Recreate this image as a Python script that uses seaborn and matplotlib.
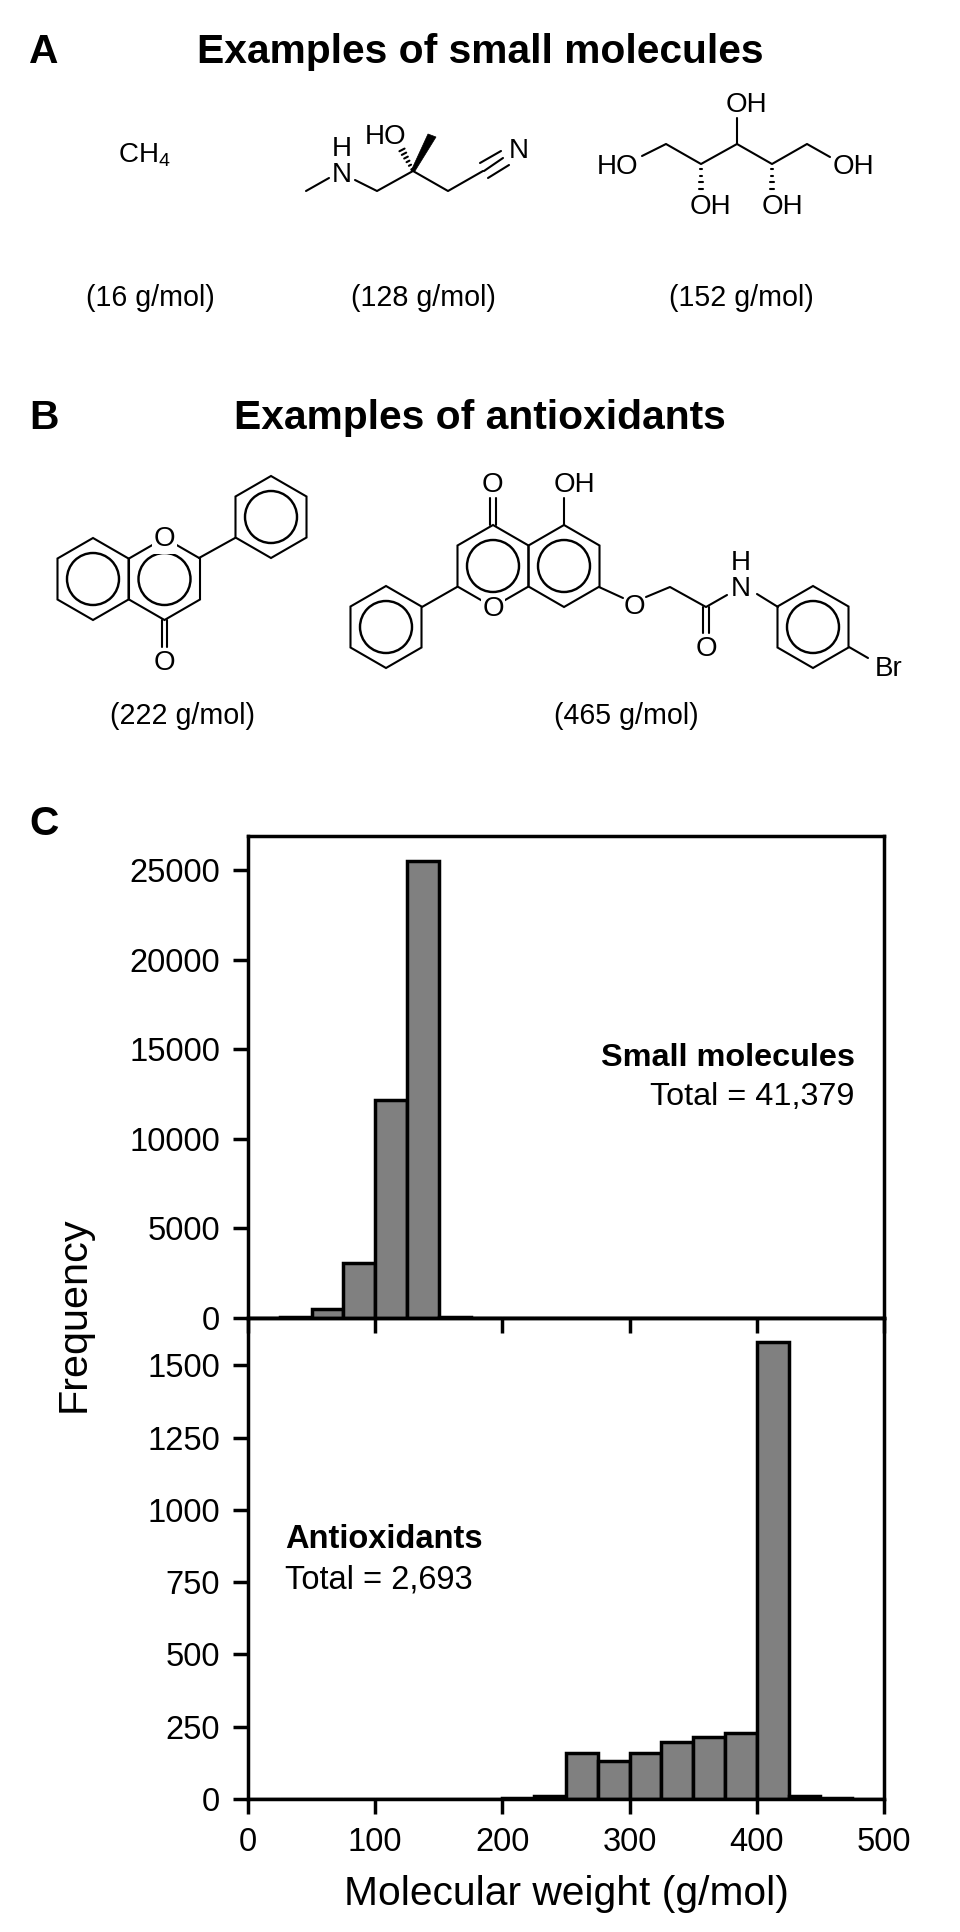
import numpy as np
import matplotlib
matplotlib.use('Agg')
import matplotlib.pyplot as plt
from matplotlib.patches import Circle, Polygon
import seaborn as sns

# histogram data
bin_edges = list(range(0, 525, 25))
small_counts = [0, 60, 520, 3050, 12200, 25500, 50, 0, 0, 0, 0, 0, 0, 0, 0, 0, 0, 0, 0, 0]
antiox_counts = [0, 0, 0, 0, 0, 0, 0, 0, 2, 12, 158, 132, 160, 197, 213, 229, 1580, 9, 2, 0]
small_ticks = [0, 5000, 10000, 15000, 20000, 25000]
antiox_ticks = [0, 250, 500, 750, 1000, 1250, 1500]
x_ticks = [0, 100, 200, 300, 400, 500]

W, H = 960, 1932
LW = 2.5   # axes and bars
BOND = 1.5
R = 41
R_IN = 26

sns.set_theme(style='ticks', rc={'text.color': 'black', 'axes.labelcolor': 'black',
                                 'xtick.color': 'black', 'ytick.color': 'black'})
plt.rcParams['font.family'] = ['Liberation Sans', 'DejaVu Sans']
plt.rcParams['mathtext.default'] = 'regular'

fig = plt.figure(figsize=(W / 100, H / 100), dpi=100, facecolor='white')


def axes_px(left, top, right, bottom):
    return fig.add_axes([left / W, 1 - bottom / H, (right - left) / W, (bottom - top) / H])


centers = [(a + b) / 2 for a, b in zip(bin_edges[:-1], bin_edges[1:])]
ax_top = axes_px(248, 836, 884, 1318)
ax_bot = axes_px(248, 1318, 884, 1799)

sns.histplot(x=centers, weights=small_counts, bins=bin_edges, color='#808080', alpha=1,
             edgecolor='black', linewidth=LW, ax=ax_top)
sns.histplot(x=centers, weights=antiox_counts, bins=bin_edges, color='#808080', alpha=1,
             edgecolor='black', linewidth=LW, ax=ax_bot)

ax_top.set_ylim(0, 26920)
ax_bot.set_ylim(0, 1664)
ax_top.set_yticks(small_ticks)
ax_bot.set_yticks(antiox_ticks)
for ax in (ax_top, ax_bot):
    ax.set_xlim(0, 500)
    ax.set_xticks(x_ticks)
    ax.set_ylabel('')
    ax.set_xlabel('')
    ax.tick_params(width=LW, length=10.5, labelsize=23.5, pad=9.5)
    for s in ax.spines.values():
        s.set_linewidth(LW)
        s.set_color('black')
ax_top.tick_params(axis='x', labelbottom=False)
ax_top.set_zorder(3)
ax_top.patch.set_alpha(0)
ax_bot.set_xlabel('Molecular weight (g/mol)', fontsize=29.3, labelpad=12.5)

ax_top.text(477, 14500, 'Small molecules', ha='right', va='center', fontsize=23.3, fontweight='bold')
ax_top.text(477, 12320, 'Total = 41,379', ha='right', va='center', fontsize=23.3)
ax_bot.text(29, 898, 'Antioxidants', ha='left', va='center', fontsize=23.5, fontweight='bold')
ax_bot.text(29, 759, 'Total = 2,693', ha='left', va='center', fontsize=23.5)

# overlay in pixel coordinates for headings and the structure drawings
ov = fig.add_axes([0, 0, 1, 1], zorder=5)
ov.set_xlim(0, W)
ov.set_ylim(H, 0)
ov.axis('off')
ov.patch.set_alpha(0)


def bond(*pts, lw=BOND):
    xs, ys = zip(*pts)
    ov.plot(xs, ys, color='black', lw=lw, solid_capstyle='round', solid_joinstyle='round', zorder=2)


def atom(x, y, s, size=20, ha='center', white=False):
    kw = {}
    if white:
        kw['bbox'] = dict(fc='white', ec='none', pad=1.0)
    ov.text(x, y + 1.5, s, ha=ha, va='center', fontsize=size, zorder=4, **kw)


def ring(cx, cy, r=R, inner=R_IN):
    ang = np.deg2rad(np.arange(90, 450, 60))
    px = cx + r * np.cos(ang)
    py = cy - r * np.sin(ang)
    ov.add_patch(Polygon(np.c_[px, py], closed=True, fill=False, ec='black', lw=BOND, zorder=2))
    ov.add_patch(Circle((cx, cy), inner, fill=False, ec='black', lw=BOND + 0.25, zorder=2))


def double(p, q, gap=2.6):
    p, q = np.array(p, float), np.array(q, float)
    n = np.array([-(q - p)[1], (q - p)[0]]) / np.hypot(*(q - p))
    bond(p + n * gap, q + n * gap)
    bond(p - n * gap, q - n * gap)


def hashed(p, q, n=6, wide=5):
    p, q = np.array(p, float), np.array(q, float)
    d = (q - p) / np.hypot(*(q - p))
    perp = np.array([-d[1], d[0]])
    for i in range(n):
        t = (i + 0.5) / n
        c = p + (q - p) * t
        w = 0.6 + wide * t / 2
        bond(c - perp * w, c + perp * w, lw=1.5)


# panel letters and headings
ov.text(44, 52, 'A', ha='center', va='center', fontsize=29.3, fontweight='bold')
ov.text(44, 418, 'B', ha='center', va='center', fontsize=29.3, fontweight='bold')
ov.text(44, 824, 'C', ha='center', va='center', fontsize=29.3, fontweight='bold')
ov.text(480, 52, 'Examples of small molecules', ha='center', va='center', fontsize=29.3, fontweight='bold')
ov.text(480, 418, 'Examples of antioxidants', ha='center', va='center', fontsize=29.3, fontweight='bold')
ov.text(74, 1314, 'Frequency', ha='center', va='center', rotation=90, fontsize=29.8)

for x, y, s in [(150, 298, '(16 g/mol)'), (423, 298, '(128 g/mol)'), (741, 298, '(152 g/mol)'),
                (182, 716, '(222 g/mol)'), (626, 716, '(465 g/mol)')]:
    ov.text(x, y, s, ha='center', va='center', fontsize=20.6)

# methane
atom(144, 154, 'CH$_4$', size=20)

# amino nitrile
bond((306, 191), (329, 178))
bond((355, 180), (377, 191), (413, 171), (448, 191), (483, 171))
bond((484, 171), (503, 158))
bond((480, 163), (501, 151))
bond((488, 178), (509, 165))
atom(342, 173, 'N')
atom(342, 147, 'H')
atom(386, 136, 'HO')
atom(519, 150, 'N')
hashed((413, 171), (401, 148))
ov.add_patch(Polygon([(411, 171), (415, 171), (436, 137), (428, 134)], closed=True, fc='black', ec='black', lw=0.5))

# hexitol
bond((642, 156), (666, 144), (701, 164), (737, 144), (772, 164), (807, 144), (830, 157))
bond((737, 144), (737, 118))
hashed((701, 166), (701, 192), n=4, wide=3)
hashed((772, 166), (772, 192), n=4, wide=3)
atom(618, 165, 'HO')
atom(853, 165, 'OH')
atom(746, 103, 'OH')
atom(710, 206, 'OH')
atom(782, 206, 'OH')

# flavone
ring(93, 579)
ring(164.5, 579)
ring(271, 517)
bond((199, 558), (235, 538))
double((164.5, 620), (164.5, 647))
atom(164.5, 538, 'O', white=True)
atom(164.5, 662, 'O')

# flavone derivative
ring(493, 566)
ring(564, 566)
ring(386, 627)
ring(813, 627)
bond((457, 587), (422, 607))
double((493, 525), (493, 498))
bond((564, 525), (564, 498))
bond((599, 587), (623, 598))
bond((646, 597), (670, 587), (706, 607), (727, 595))
double((706, 607), (706, 633))
bond((757, 594), (778, 607))
bond((849, 647), (868, 658))
atom(493, 607, 'O', white=True)
atom(492, 483, 'O')
atom(574, 484, 'OH')
atom(634, 606, 'O')
atom(706, 647, 'O')
atom(741, 587, 'N')
atom(741, 561, 'H')
atom(889, 668, 'Br')

fig.savefig('out.png', dpi=100, facecolor='white')
